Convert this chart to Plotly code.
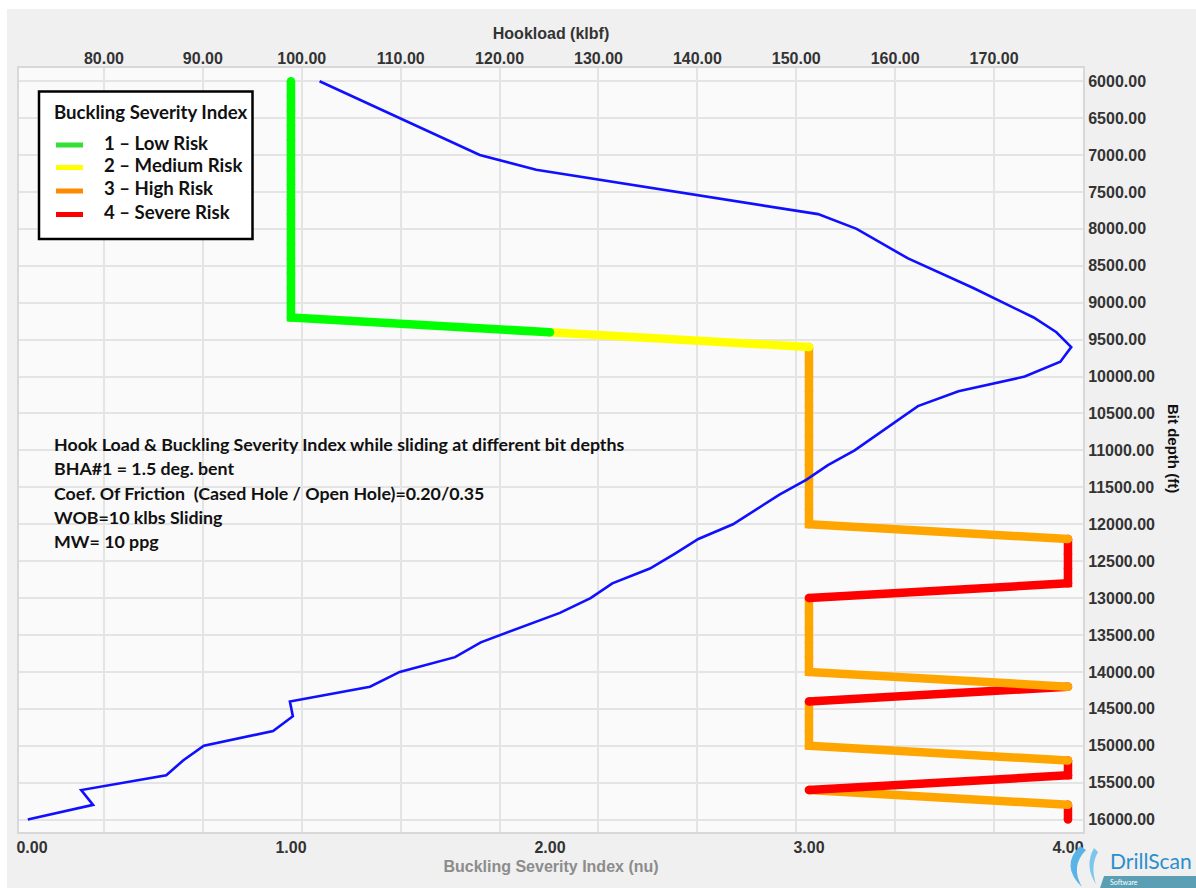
import plotly.graph_objects as go

# ---- Buckling Severity Index per bit-depth station (1 low .. 4 severe) ----
bsi_depth_ft = [6000, 6200, 6400, 6600, 6800, 7000, 7200, 7400, 7600, 7800,
                8000, 8200, 8400, 8600, 8800, 9000, 9200, 9400, 9600, 9800,
                10000, 10200, 10400, 10600, 10800, 11000, 11200, 11400, 11600, 11800,
                12000, 12200, 12400, 12600, 12800, 13000, 13200, 13400, 13600, 13800,
                14000, 14200, 14400, 14600, 14800, 15000, 15200, 15400, 15600, 15800,
                16000]
bsi_value = [1, 1, 1, 1, 1, 1, 1, 1, 1, 1,
             1, 1, 1, 1, 1, 1, 1, 2, 3, 3,
             3, 3, 3, 3, 3, 3, 3, 3, 3, 3,
             3, 4, 4, 4, 4, 3, 3, 3, 3, 3,
             3, 4, 3, 3, 3, 3, 4, 4, 3, 4,
             4]

# ---- Hookload while sliding (klbf) ----
hook_depth_ft = [6000, 6500, 7000, 7200, 7400, 7600, 7800, 8000, 8400, 8800,
                 9200, 9400, 9600, 9800, 10000, 10200, 10400, 11000, 11200, 11400,
                 11600, 12000, 12200, 12400, 12600, 12800, 13000, 13200, 13400, 13600,
                 13800, 14000, 14200, 14400, 14600, 14800, 15000, 15200, 15400, 15600,
                 15800, 16000]
hookload_klbf = [101.8, 109.9, 118.0, 123.7, 133.1, 142.7, 152.2, 156.1, 161.3, 167.9,
                 174.0, 176.3, 177.8, 176.7, 173.1, 166.4, 162.3, 155.9, 153.2, 151.0,
                 148.3, 143.6, 140.1, 137.7, 135.2, 131.4, 129.2, 126.1, 122.1, 118.1,
                 115.5, 109.9, 106.9, 98.8, 99.1, 97.1, 90.1, 88.0, 86.3, 77.7,
                 78.9, 72.3]

bsi_ticks = [0, 1, 2, 3, 4]
hook_ticks = [80, 90, 100, 110, 120, 130, 140, 150, 160, 170]
depth_ticks = [6000, 6500, 7000, 7500, 8000, 8500, 9000, 9500, 10000, 10500, 11000,
               11500, 12000, 12500, 13000, 13500, 14000, 14500, 15000, 15500, 16000]

risk_levels = [1, 2, 3, 4]
risk_labels = ["1 – Low Risk", "2 – Medium Risk", "3 – High Risk", "4 – Severe Risk"]
risk_line_colors = {1: "#00ff00", 2: "#ffff00", 3: "#ffa500", 4: "#ff0000"}
risk_key_colors = {1: "#33e033", 2: "#ffff00", 3: "#ff8a00", 4: "#ff0000"}

notes = [
    "Hook Load & Buckling Severity Index while sliding at different bit depths",
    "BHA#1 = 1.5 deg. bent",
    "Coef. Of Friction  (Cased Hole / Open Hole)=0.20/0.35",
    "WOB=10 klbs Sliding",
    "MW= 10 ppg",
]

# ---- page geometry (pixels) ----
FIG_W, FIG_H = 1196, 888
PL, PR, PT, PB = 19, 1083, 68, 832


def px(x):
    return (x - PL) / (PR - PL)


def py(y):
    return (PB - y) / (PB - PT)


TICK_FONT = dict(family="Liberation Sans, Arial, sans-serif", size=16, color="#333333", weight="bold")
NOTE_FONT = "Lato, Carlito, Calibri, sans-serif"

fig = go.Figure()

# BSI path: each segment coloured by the index at its upper station.
# Consecutive segments of the same colour are grouped; deeper runs are drawn first.
runs = []
start = 0
for i in range(1, len(bsi_value)):
    if i == len(bsi_value) - 1 or bsi_value[i] != bsi_value[start]:
        runs.append((start, i, bsi_value[start]))
        start = i
for s, e, level in reversed(runs):
    fig.add_trace(go.Scatter(
        x=bsi_value[s:e + 1], y=bsi_depth_ft[s:e + 1],
        xaxis="x", yaxis="y", mode="lines+markers",
        line=dict(color=risk_line_colors[level], width=8.5),
        marker=dict(color=risk_line_colors[level], size=8.5, line=dict(width=0)),
        hoverinfo="skip", showlegend=False,
    ))

# Hookload curve on the top axis
fig.add_trace(go.Scatter(
    x=hookload_klbf, y=hook_depth_ft, xaxis="x2", yaxis="y",
    mode="lines", line=dict(color="#1010ff", width=2.6),
    showlegend=False, name="Hookload",
))

shapes = []
annotations = []

# white frame strips around the grey panel
shapes.append(dict(type="rect", xref="paper", yref="paper", layer="above",
                   x0=px(0), x1=px(FIG_W), y0=py(9), y1=py(0),
                   fillcolor="white", line=dict(width=0)))
shapes.append(dict(type="rect", xref="paper", yref="paper", layer="above",
                   x0=px(0), x1=px(7), y0=py(FIG_H), y1=py(0),
                   fillcolor="white", line=dict(width=0)))

# legend box
shapes.append(dict(type="rect", xref="paper", yref="paper", layer="above",
                   x0=px(39), x1=px(252.5), y0=py(239), y1=py(91.5),
                   fillcolor="white", line=dict(color="black", width=2.5)))
annotations.append(dict(xref="paper", yref="paper", x=px(52), y=py(112),
                        xanchor="left", yanchor="middle", showarrow=False,
                        text="<b>Buckling Severity Index</b>",
                        font=dict(family=NOTE_FONT, size=18.6, color="#111111")))
key_y = [145, 167.5, 191, 214.5]
for level, label, yy in zip(risk_levels, risk_labels, key_y):
    shapes.append(dict(type="line", xref="paper", yref="paper", layer="above",
                       x0=px(56), x1=px(83), y0=py(yy), y1=py(yy),
                       line=dict(color=risk_key_colors[level], width=5)))
    annotations.append(dict(xref="paper", yref="paper", x=px(102), y=py(yy - 2.5),
                            xanchor="left", yanchor="middle", showarrow=False,
                            text="<b>" + label + "</b>",
                            font=dict(family=NOTE_FONT, size=18.6, color="#111111")))

# notes block
for k, line in enumerate(notes):
    annotations.append(dict(xref="paper", yref="paper", x=px(52), y=py(444 + 24.3 * k),
                            xanchor="left", yanchor="middle", showarrow=False,
                            text="<b>" + line + "</b>",
                            font=dict(family=NOTE_FONT, size=17.8, color="#111111")))

# right axis title, reading top to bottom
annotations.append(dict(xref="paper", yref="paper", x=px(1174), y=py(448),
                        xanchor="center", yanchor="middle", showarrow=False,
                        textangle=90, text="<b>Bit depth (ft)</b>",
                        font=dict(family="Liberation Sans, Arial, sans-serif", size=15, color="#111111")))

# DrillScan mark
shapes.append(dict(type="path", xref="paper", yref="paper", layer="above",
                   path=f"M {px(1080)},{py(846)} Q {px(1060)},{py(866)} {px(1082)},{py(887)} "
                        f"Q {px(1070)},{py(866)} {px(1086)},{py(850)} Z",
                   fillcolor="#58b3e6", line=dict(width=0)))
shapes.append(dict(type="path", xref="paper", yref="paper", layer="above",
                   path=f"M {px(1094)},{py(848)} Q {px(1084)},{py(866)} {px(1096)},{py(884)} "
                        f"Q {px(1090)},{py(866)} {px(1098)},{py(852)} Z",
                   fillcolor="#7cc6ee", line=dict(width=0)))
shapes.append(dict(type="path", xref="paper", yref="paper", layer="above",
                   path=f"M {px(1104)},{py(876)} L {px(1196)},{py(876)} L {px(1196)},{py(888)} "
                        f"L {px(1100)},{py(888)} Z",
                   fillcolor="#5a9fb3", line=dict(width=0)))
annotations.append(dict(xref="paper", yref="paper", x=px(1108), y=py(861),
                        xanchor="left", yanchor="middle", showarrow=False,
                        text="DrillScan",
                        font=dict(family="Lato, sans-serif", size=21, color="#2a8fcc")))
annotations.append(dict(xref="paper", yref="paper", x=px(1108), y=py(882),
                        xanchor="left", yanchor="middle", showarrow=False,
                        text="Software",
                        font=dict(family="Lato, sans-serif", size=7, color="white")))

fig.update_layout(
    width=FIG_W, height=FIG_H,
    margin=dict(l=PL, r=FIG_W - PR, t=PT, b=FIG_H - PB, autoexpand=False),
    paper_bgcolor="#f0f0f0",
    plot_bgcolor="#fafafa",
    showlegend=False,
    shapes=shapes,
    annotations=annotations,
    xaxis=dict(
        range=[-0.050, 4.058], tickvals=bsi_ticks, tickformat=".2f",
        showgrid=False, zeroline=False,
        showline=True, linecolor="#d8d8d8", linewidth=2, mirror=True,
        ticks="", tickfont=TICK_FONT,
        title=dict(text="<b>Buckling Severity Index (nu)</b>", standoff=6,
                   font=dict(family="Liberation Sans, Arial, sans-serif", size=16, color="#8c8c8c")),
    ),
    xaxis2=dict(
        overlaying="x", side="top", range=[71.41, 178.99],
        tickvals=hook_ticks, tickformat=".2f",
        showgrid=True, gridcolor="#e4e4e4", gridwidth=2, zeroline=False,
        showline=False, ticks="", tickfont=TICK_FONT,
        title=dict(text="<b>Hookload (klbf)</b>", standoff=6,
                   font=dict(family="Liberation Sans, Arial, sans-serif", size=16, color="#333333")),
    ),
    yaxis=dict(
        side="right", range=[16168, 5821], tickvals=depth_ticks, tickformat=".2f",
        showgrid=True, gridcolor="#e4e4e4", gridwidth=2, zeroline=False,
        showline=True, linecolor="#d8d8d8", linewidth=2, mirror=True,
        ticks="", tickfont=TICK_FONT,
    ),
)

fig.write_html("out.html")
